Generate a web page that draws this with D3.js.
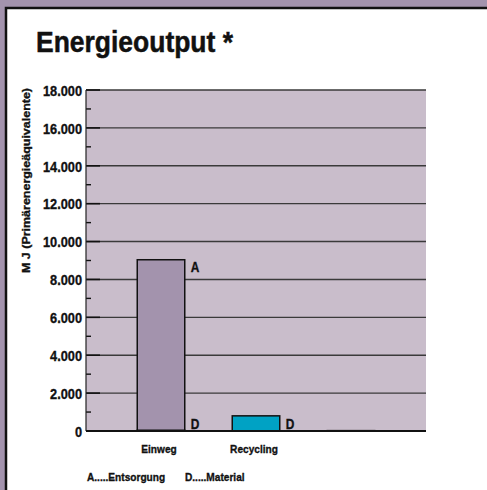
<!DOCTYPE html>
<html><head><meta charset="utf-8">
<script src="https://cdn.jsdelivr.net/npm/d3@7/dist/d3.min.js"></script>
<style>
html,body{margin:0;padding:0;background:#a393ad;}
svg{display:block;}
text{font-family:"Liberation Sans",Arial,sans-serif;font-weight:bold;fill:#111;stroke:#111;stroke-width:0.35px;}
</style></head>
<body><svg id="c" width="487" height="490"></svg>
<script>
const categories = ["Einweg", "Recycling", ""];
const valuesA = [9000, 0, 0];      // A.....Entsorgung
const valuesD = [40, 800, 20];     // D.....Material
const barColors = ["#a393ad", "#00a2c4", "#a393ad"];
const yTicks = [0, 2000, 4000, 6000, 8000, 10000, 12000, 14000, 16000, 18000];
const yMinor = [1000, 3000, 5000, 7000, 9000, 11000, 13000, 15000, 17000];
const legendItems = ["A.....Entsorgung", "D.....Material"];

const svg = d3.select("#c");
function condense(sel, k) {
  sel.each(function () {
    const w = this.getComputedTextLength();
    d3.select(this).attr("textLength", w * k).attr("lengthAdjust", "spacingAndGlyphs");
  });
  return sel;
}

svg.append("rect").attr("x", 0).attr("y", 0).attr("width", 487).attr("height", 490).attr("fill", "#a393ad");
svg.append("rect").attr("x", 6).attr("y", 8).attr("width", 490).attr("height", 490).attr("fill", "#fff")
  .attr("stroke", "#111").attr("stroke-width", 2.5);

svg.append("text").attr("x", 36).attr("y", 52).attr("font-size", 29).style("stroke-width", "0.5px")
  .attr("textLength", 197).attr("lengthAdjust", "spacingAndGlyphs").text("Energieoutput *");

const L = 86, R = 426, T = 90, B = 431;
const y = d3.scaleLinear().domain([0, 18000]).range([B, T]);
const x = d3.scaleBand().domain(categories).range([113.5, 398.5]);
const bw = x.bandwidth() * 0.5;

svg.append("rect").attr("x", L).attr("y", T).attr("width", R - L).attr("height", B - T).attr("fill", "#c9bdcb");

svg.append("g").selectAll("line").data(yTicks.filter(d => d > 0)).join("line")
  .attr("x1", L).attr("x2", R).attr("y1", d => y(d)).attr("y2", d => y(d))
  .attr("stroke", "#3a3a3a").attr("stroke-width", 1.4);

const ax = svg.append("g").attr("transform", `translate(${L},0)`)
  .call(d3.axisLeft(y).tickValues(yTicks).tickSize(0).tickPadding(4)
    .tickFormat(d => d3.format(",")(d).replace(/,/g, ".")));
ax.select(".domain").remove();
ax.selectAll("text").attr("font-size", 14.5).attr("fill", "#111").attr("font-weight", "bold")
  .attr("font-family", '"Liberation Sans",Arial,sans-serif').attr("dy", "0.36em");
condense(ax.selectAll("text"), 0.88);
svg.append("g").selectAll("line").data(yTicks).join("line")
  .attr("x1", L).attr("x2", L + 14).attr("y1", d => y(d)).attr("y2", d => y(d)).attr("stroke", "#111").attr("stroke-width", 1.6);
svg.append("g").selectAll("line").data(yMinor).join("line")
  .attr("x1", L).attr("x2", L + 5).attr("y1", d => y(d)).attr("y2", d => y(d)).attr("stroke", "#111").attr("stroke-width", 1.4);
svg.append("line").attr("x1", L).attr("x2", L).attr("y1", T).attr("y2", B).attr("stroke", "#222").attr("stroke-width", 1.2);

const rows = categories.map((c, i) => ({ cat: c, A: valuesA[i], D: valuesD[i], i }));
const stack = d3.stack().keys(["D", "A"])(rows);
const g = svg.append("g");
stack.forEach(layer => {
  g.selectAll(null).data(layer).join("rect")
    .attr("x", d => x(d.data.cat) + x.bandwidth() / 2 - bw / 2)
    .attr("width", bw)
    .attr("y", d => y(d[1]))
    .attr("height", d => Math.max(0, y(d[0]) - y(d[1])))
    .attr("fill", d => d.data.cat ? barColors[d.data.i] : "#111")
    .attr("stroke", "#111").attr("stroke-width", d => (d[1] - d[0]) > 0 ? 1.5 : 0);
});
rows.forEach(r => {
  if (!r.cat) return;
  const xr = x(r.cat) + x.bandwidth() / 2 + bw / 2 + 6;
  if (r.A > 0) condense(svg.append("text").attr("x", xr).attr("y", y(r.A + r.D) + 12).attr("font-size", 14).text("A"), 0.85);
  condense(svg.append("text").attr("x", xr).attr("y", B - 2).attr("font-size", 14).text("D"), 0.85);
});

svg.append("line").attr("x1", L).attr("x2", R).attr("y1", B).attr("y2", B).attr("stroke", "#111").attr("stroke-width", 2);

const cl = svg.append("g").selectAll("text").data(categories).join("text")
  .attr("x", d => x(d) + x.bandwidth() / 2 - 2).attr("y", 453).attr("text-anchor", "middle").attr("font-size", 11.5).text(d => d);
condense(cl, 0.88);

svg.append("text").attr("transform", "translate(30,180.5) rotate(-90)").attr("text-anchor", "middle")
  .attr("font-size", 11).attr("textLength", 185).attr("lengthAdjust", "spacingAndGlyphs")
  .text("M J (Primärenergieäquivalente)");

condense(svg.append("text").attr("x", 87).attr("y", 481).attr("font-size", 11.5).text(legendItems[0]), 0.88);
condense(svg.append("text").attr("x", 185).attr("y", 481).attr("font-size", 11.5).text(legendItems[1]), 0.88);
</script></body></html>
